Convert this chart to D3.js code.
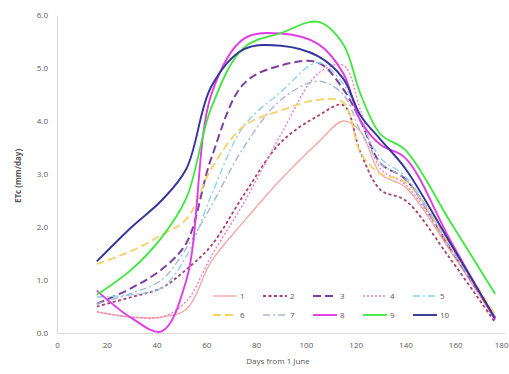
<!DOCTYPE html>
<html>
<head>
<meta charset="utf-8">
<script src="https://cdn.jsdelivr.net/npm/d3@7"></script>
<style>
  body { margin: 0; background: #fff; }
  text { font-family: "Open Sans", "Liberation Sans", sans-serif; }
</style>
</head>
<body>
<div class="chart"></div>
<script>
// days sampled for every series (x values)
const days = [16, 30, 42, 52, 62, 75, 90, 105, 115, 122, 130, 140, 158, 176];

// ETc values per series
const s1  = [0.40, 0.30, 0.30, 0.45, 1.35, 2.10, 2.90, 3.60, 4.00, 3.80, 3.00, 2.75, 1.55, 0.25];
const s2  = [0.50, 0.68, 0.85, 1.20, 1.65, 2.60, 3.60, 4.10, 4.30, 3.40, 2.70, 2.50, 1.40, 0.20];
const s3  = [0.55, 0.85, 1.20, 1.70, 3.30, 4.70, 5.05, 5.10, 4.60, 4.00, 3.20, 2.90, 1.60, 0.30];
const s4  = [0.40, 0.30, 0.30, 0.60, 1.45, 2.45, 3.75, 4.90, 5.05, 4.20, 3.10, 2.80, 1.60, 0.30];
const s5  = [0.68, 0.72, 0.85, 1.45, 2.60, 3.90, 4.55, 5.10, 4.70, 4.00, 3.30, 2.95, 1.65, 0.30];
const s6  = [1.30, 1.55, 1.85, 2.15, 3.10, 3.90, 4.20, 4.40, 4.35, 3.40, 3.00, 2.85, 1.65, 0.35];
const s7  = [0.55, 0.75, 1.00, 1.60, 2.40, 3.50, 4.40, 4.75, 4.50, 3.80, 3.20, 2.90, 1.60, 0.30];
const s8  = [0.80, 0.28, 0.03, 1.00, 4.50, 5.55, 5.65, 5.45, 4.90, 4.00, 3.55, 3.30, 1.75, 0.25];
const s9  = [0.72, 1.20, 1.80, 2.55, 4.25, 5.38, 5.66, 5.87, 5.45, 4.50, 3.75, 3.45, 2.10, 0.74];
const s10 = [1.35, 2.00, 2.50, 3.10, 4.65, 5.35, 5.42, 5.22, 4.80, 4.10, 3.65, 3.10, 1.70, 0.28];

const seriesNames = ["1", "2", "3", "4", "5", "6", "7", "8", "9", "10"];
const seriesValues = [s1, s2, s3, s4, s5, s6, s7, s8, s9, s10];

const yTicks = [0, 1, 2, 3, 4, 5, 6];
const xTicks = [0, 20, 40, 60, 80, 100, 120, 140, 160, 180];

// line styles (colour, width, dash) per series
const styles = [
    { color: "#f4a6a0", width: 1.3, dash: null },        // 1 salmon
    { color: "#a8406c", width: 1.8, dash: "3,2.5" },     // 2 maroon short dash
    { color: "#7d3f9f", width: 2.0, dash: "8,4" },       // 3 purple long dash
    { color: "#ee7cc0", width: 1.4, dash: "2,2" },       // 4 pink dots
    { color: "#8fd0ee", width: 1.4, dash: "7,3,2,3" },   // 5 light blue dash-dot
    { color: "#f8d068", width: 1.8, dash: "8,4" },       // 6 yellow long dash
    { color: "#aab6d2", width: 1.4, dash: "7,3,2,3" },   // 7 grey-blue dash-dot
    { color: "#e03ce6", width: 1.9, dash: null },        // 8 magenta
    { color: "#3de83d", width: 1.8, dash: null },        // 9 green
    { color: "#34349a", width: 1.9, dash: null }         // 10 navy
];

const width = 509;
const height = 374;

let svg = d3.select(".chart").append("svg")
    .attr("width", width)
    .attr("height", height);

let xScale = d3.scaleLinear().domain([0, 180]).range([57, 505]);
let yScale = d3.scaleLinear().domain([0, 6]).range([333, 15]);

// axes
let yAxis = d3.axisLeft(yScale).tickValues(yTicks).tickFormat(d3.format(".1f")).tickSize(0).tickPadding(9);
let xAxis = d3.axisBottom(xScale).tickValues(xTicks).tickSize(0).tickPadding(9);

let gy = svg.append("g").attr("transform", "translate(57,0)").call(yAxis);
let gx = svg.append("g").attr("transform", "translate(0,333)").call(xAxis);
[gx, gy].forEach(g => {
    g.select(".domain").attr("stroke", "#d9d9d9");
    g.selectAll("text").attr("fill", "#595959").style("font-size", "8px");
});
// last x label sits at the right edge, keep it inside the window
gx.selectAll(".tick text").filter(d => d === 180).attr("text-anchor", "end").attr("dx", "3");

// axis titles
svg.append("text")
    .attr("text-anchor", "middle")
    .attr("transform", "translate(21,176)rotate(-90)")
    .attr("fill", "#595959")
    .style("font-size", "8px")
    .style("font-weight", "bold")
    .text("ETc (mm/day)");
svg.append("text")
    .attr("text-anchor", "middle")
    .attr("x", 278)
    .attr("y", 364)
    .attr("fill", "#595959")
    .style("font-size", "8px")
    .text("Days from 1 June");

// series lines
let line = d3.line()
    .x(d => xScale(d[0]))
    .y(d => yScale(d[1]))
    .curve(d3.curveCatmullRom.alpha(0.5));

seriesValues.forEach((vals, i) => {
    let pts = days.map((d, j) => [d, vals[j]]);
    svg.append("path")
        .datum(pts)
        .attr("fill", "none")
        .attr("stroke", styles[i].color)
        .attr("stroke-width", styles[i].width)
        .attr("stroke-dasharray", styles[i].dash)
        .attr("d", line);
});

// legend, two rows of five
let legend = svg.append("g");
seriesNames.forEach((name, i) => {
    let col = i % 5;
    let row = Math.floor(i / 5);
    let lx = 213 + col * 50;
    let ly = 296 + row * 19;
    legend.append("line")
        .attr("x1", lx).attr("x2", lx + 24)
        .attr("y1", ly).attr("y2", ly)
        .attr("stroke", styles[i].color)
        .attr("stroke-width", styles[i].width)
        .attr("stroke-dasharray", styles[i].dash);
    legend.append("text")
        .attr("x", lx + 27)
        .attr("y", ly + 3)
        .attr("fill", "#595959")
        .style("font-size", "8px")
        .text(name);
});
</script>
</body>
</html>
